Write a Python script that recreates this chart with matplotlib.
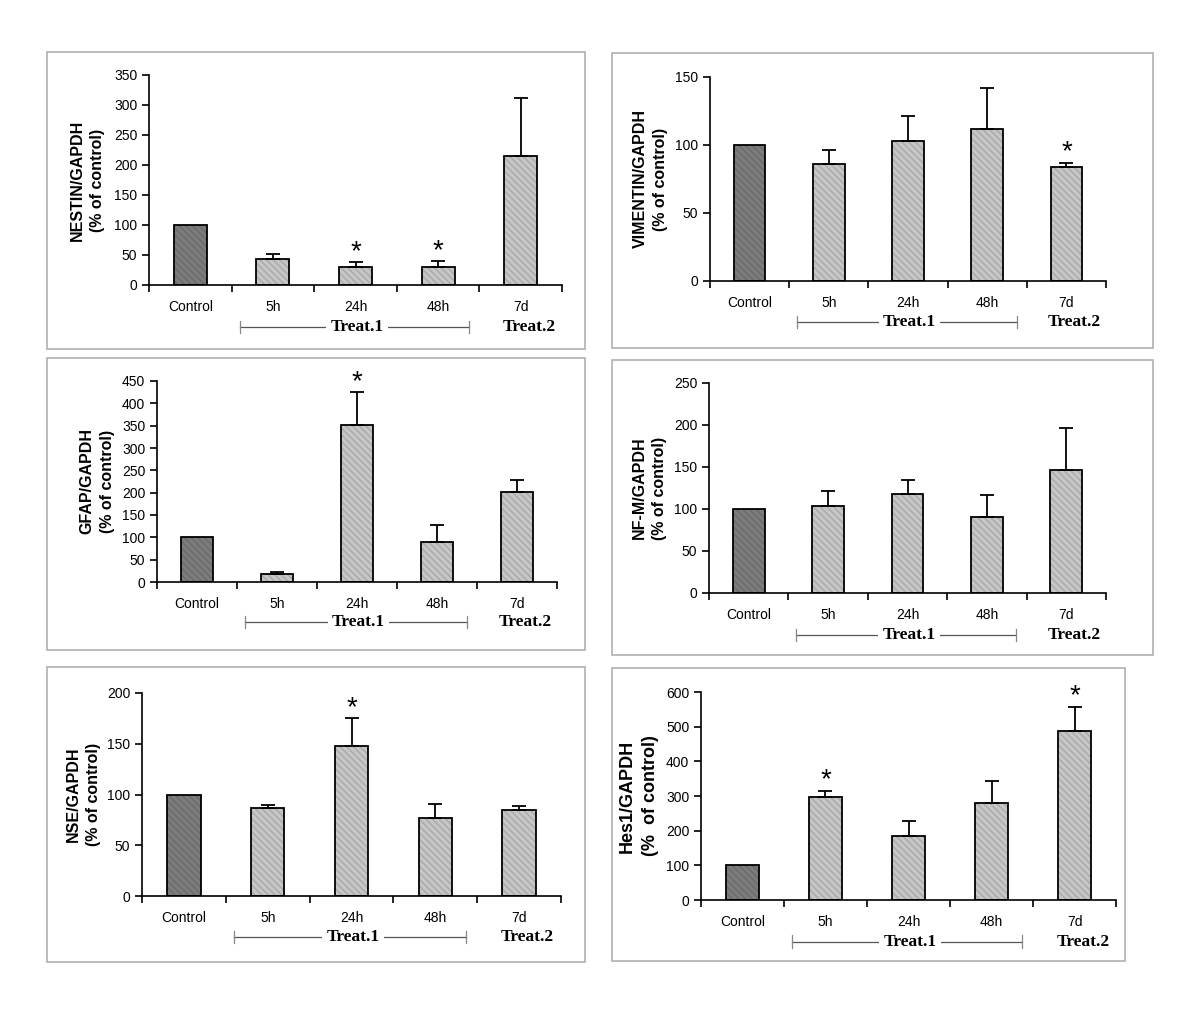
import matplotlib
matplotlib.use("Agg")
import matplotlib.pyplot as plt
import matplotlib.patches as mpatches
import numpy as np

categories = ["Control", "5h", "24h", "48h", "7d"]

# mean values (% of control) and upper error bars
nestin_vals = [100, 44, 30, 30, 215]
nestin_err = [0, 7, 8, 10, 96]
nestin_stars = [False, False, True, True, False]

vimentin_vals = [100, 86, 103, 112, 84]
vimentin_err = [0, 10, 18, 30, 3]
vimentin_stars = [False, False, False, False, True]

gfap_vals = [100, 17, 351, 89, 201]
gfap_err = [0, 5, 74, 38, 28]
gfap_stars = [False, False, True, False, False]

nfm_vals = [100, 104, 118, 90, 146]
nfm_err = [0, 18, 17, 27, 50]
nfm_stars = [False, False, False, False, False]

nse_vals = [100, 87, 148, 77, 85]
nse_err = [0, 3, 27, 14, 4]
nse_stars = [False, False, True, False, False]

hes1_vals = [100, 296, 184, 280, 488]
hes1_err = [0, 19, 44, 64, 70]
hes1_stars = [False, True, False, False, True]

W, H = 1200, 1035
fig = plt.figure(figsize=(W / 100, H / 100), dpi=100)

SANS = "Liberation Sans"
SERIF = "Liberation Serif"


def px_axes(left, right, y0, ytop):
    return fig.add_axes([left / W, 1 - y0 / H, (right - left) / W, (y0 - ytop) / H])


def px_box(x0, x1, y0, y1):
    fig.patches.append(mpatches.Rectangle(
        (x0 / W, 1 - y1 / H), (x1 - x0) / W, (y1 - y0) / H,
        transform=fig.transFigure, fill=False, edgecolor="#b0b0b0", linewidth=1.2))


def draw_panel(ax, vals, errs, stars, ylabel, ymax, ystep, label_size=11.5, labelpad=6):
    x = np.arange(len(categories))
    colors = ["#7c7c7c"] + ["#c6c6c6"] * (len(categories) - 1)
    hatch_colors = ["#6a6a6a"] + ["#a9a9a9"] * (len(categories) - 1)
    for xi, v, c, hc in zip(x, vals, colors, hatch_colors):
        ax.bar(xi, v, width=0.4, color=c, edgecolor=hc, linewidth=0, hatch="\\\\\\\\\\", zorder=2)
    ax.bar(x, vals, width=0.4, fill=False, edgecolor="black", linewidth=1.3, zorder=3)
    for xi, v, e, s in zip(x, vals, errs, stars):
        if e > 0:
            ax.errorbar(xi, v, yerr=[[0], [e]], fmt="none", ecolor="black",
                        elinewidth=1.3, capsize=5, capthick=1.3, zorder=4)
        if s:
            ax.annotate("*", (xi, v + e), xytext=(0, -2), textcoords="offset points",
                        ha="center", va="bottom", fontsize=20, family=SANS, zorder=5)

    ax.set_xlim(-0.5, len(categories) - 0.5)
    ax.set_ylim(0, ymax)
    ax.set_yticks(np.arange(0, ymax + 1, ystep))
    ax.set_xticks(np.arange(-0.5, len(categories), 1.0))
    ax.set_xticklabels([])
    ax.set_xticks(x, minor=True)
    ax.set_xticklabels(categories, minor=True, fontsize=10, family=SANS)
    ax.tick_params(axis="x", which="minor", length=0, pad=11)
    ax.tick_params(axis="x", which="major", length=5, width=1.2, direction="out")
    ax.tick_params(axis="y", length=5, width=1.2, direction="out", labelsize=10, pad=3.5)
    for lbl in ax.get_yticklabels():
        lbl.set_family(SANS)
    for side in ["top", "right"]:
        ax.spines[side].set_visible(False)
    for side in ["left", "bottom"]:
        ax.spines[side].set_linewidth(1.2)
    ax.set_ylabel(ylabel, fontsize=label_size, fontweight="bold", family=SANS,
                  labelpad=labelpad, linespacing=1.45)

    # treatment bracket below the categories
    tr = ax.get_xaxis_transform()
    yb = -0.2
    ax.plot([0.6, 3.37], [yb, yb], color="#555555", lw=0.9, transform=tr, clip_on=False, zorder=1)
    for xe in [0.6, 3.37]:
        ax.plot([xe, xe], [yb - 0.03, yb + 0.03], color="#888888", lw=0.9,
                transform=tr, clip_on=False)
    ax.text(2.02, yb, "Treat.1", transform=tr, ha="center", va="center",
            fontsize=12.5, fontweight="bold", family=SERIF, zorder=3,
            bbox=dict(facecolor="white", edgecolor="none", pad=3))
    ax.text(4.1, yb, "Treat.2", transform=tr, ha="center", va="center",
            fontsize=12.5, fontweight="bold", family=SERIF)


# panel borders
px_box(47, 585, 52, 349)
px_box(612, 1153, 53, 348)
px_box(47, 585, 358, 650)
px_box(612, 1153, 360, 655)
px_box(47, 585, 667, 962)
px_box(612, 1125, 668, 961)

ax1 = px_axes(149, 562, 285, 75)
draw_panel(ax1, nestin_vals, nestin_err, nestin_stars, "NESTIN/GAPDH\n(% of control)", 350, 50,
           labelpad=6)

ax2 = px_axes(710, 1106, 281, 77)
draw_panel(ax2, vimentin_vals, vimentin_err, vimentin_stars, "VIMENTIN/GAPDH\n(% of control)", 150, 50,
           labelpad=5)

ax3 = px_axes(157, 557, 582, 381)
draw_panel(ax3, gfap_vals, gfap_err, gfap_stars, "GFAP/GAPDH\n(% of control)", 450, 50,
           labelpad=5)

ax4 = px_axes(709, 1106, 593, 383)
draw_panel(ax4, nfm_vals, nfm_err, nfm_stars, "NF-M/GAPDH\n(% of control)", 250, 50,
           labelpad=5)

ax5 = px_axes(142, 561, 896, 693)
draw_panel(ax5, nse_vals, nse_err, nse_stars, "NSE/GAPDH\n(% of control)", 200, 50,
           labelpad=4)

ax6 = px_axes(701, 1116, 900, 692)
draw_panel(ax6, hes1_vals, hes1_err, hes1_stars, "Hes1/GAPDH\n(%  of control)", 600, 100,
           label_size=13, labelpad=5)

fig.savefig("out.png", dpi=100, facecolor="white")
